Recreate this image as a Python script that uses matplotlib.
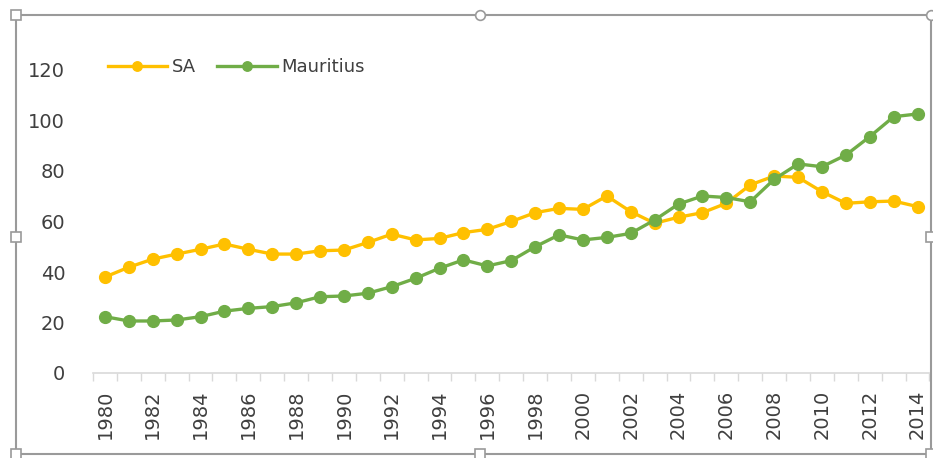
import matplotlib
matplotlib.use("Agg")
import matplotlib.pyplot as plt
from matplotlib.lines import Line2D

years = list(range(1980, 2015))
sa = [38, 41.9, 45.1, 47.1, 49, 51.1, 49, 47.1, 47.1, 48.4, 48.7, 51.7, 55, 52.7,
      53.3, 55.6, 56.9, 60, 63.5, 65.2, 64.8, 70.1, 63.9, 59.3, 61.7, 63.5, 67.2,
      74.5, 78, 77.5, 71.8, 67.2, 67.8, 68.1, 65.9]
mauritius = [22.3, 20.6, 20.6, 21, 22.3, 24.5, 25.6, 26.3, 27.8, 30.2, 30.5, 31.6,
             34.2, 37.5, 41.5, 44.8, 42.4, 44.5, 50, 54.7, 52.7, 53.7, 55.3, 60.6,
             66.9, 70.1, 69.5, 67.8, 76.7, 82.8, 81.7, 86.3, 93.6, 101.5, 102.6]
y_ticks = [0, 20, 40, 60, 80, 100, 120]
x_tick_labels = list(range(1980, 2015, 2))

plt.rcParams['font.family'] = ['DejaVu Sans']
W, H = 933, 458
fig = plt.figure(figsize=(W / 100, H / 100), dpi=100)
ax = fig.add_axes([93 / W, (H - 373) / H, (929.5 - 93) / W, (373 - 19.5) / H])

ax.plot(years, sa, color='#FFC000', lw=2.4, marker='o', ms=8.5, label='SA')
ax.plot(years, mauritius, color='#70AD47', lw=2.4, marker='o', ms=8.5, label='Mauritius')

txt = '#3F3F3F'
ax.set_xlim(1979.5, 2014.5)
ax.set_ylim(0, 140)
ax.set_yticks(y_ticks)
ax.set_xticks(x_tick_labels)
ax.set_xticklabels([str(v) for v in x_tick_labels], rotation=90)
ax.set_xticks([y - 0.5 for y in years] + [2014.5], minor=True)
ax.tick_params(axis='x', which='major', length=0, pad=12, labelsize=14, labelcolor=txt)
ax.tick_params(axis='x', which='minor', length=6, color='#D9D9D9', width=1)
ax.tick_params(axis='y', length=0, pad=20, labelsize=14, labelcolor=txt)
for s in ['top', 'right', 'left']:
    ax.spines[s].set_visible(False)
ax.spines['bottom'].set_color('#D9D9D9')
ax.spines['bottom'].set_linewidth(1.2)

leg = ax.legend(loc='center left', bbox_to_anchor=(-0.002, 0.865), ncol=2, frameon=False,
                fontsize=13, handlelength=3.3, handletextpad=0.25, columnspacing=1.2,
                markerscale=0.8, labelcolor=txt)

# outer chart border (selection frame)
def fx(x):
    return x / W
def fy(y):
    return 1 - y / H
bc = '#9A9A9A'
L, T, R, B = 16, 15, 931, 454
for xs, ys in [([L, R], [T, T]), ([L, L], [T, B]), ([L, R], [B, B]), ([R, R], [T, B])]:
    fig.add_artist(Line2D([fx(v) for v in xs], [fy(v) for v in ys], color=bc, lw=1.5))
for (hx, hy, m) in [(L, T, 's'), (480, T, 'o'), (R, T, 'o'), (L, 237, 's'), (R, 237, 's'),
                    (L, B, 's'), (480, B, 's'), (R, B, 's')]:
    fig.add_artist(Line2D([fx(hx)], [fy(hy)], marker=m, ms=7, mfc='white', mec=bc, mew=1.2))

fig.savefig('out.png', dpi=100)
